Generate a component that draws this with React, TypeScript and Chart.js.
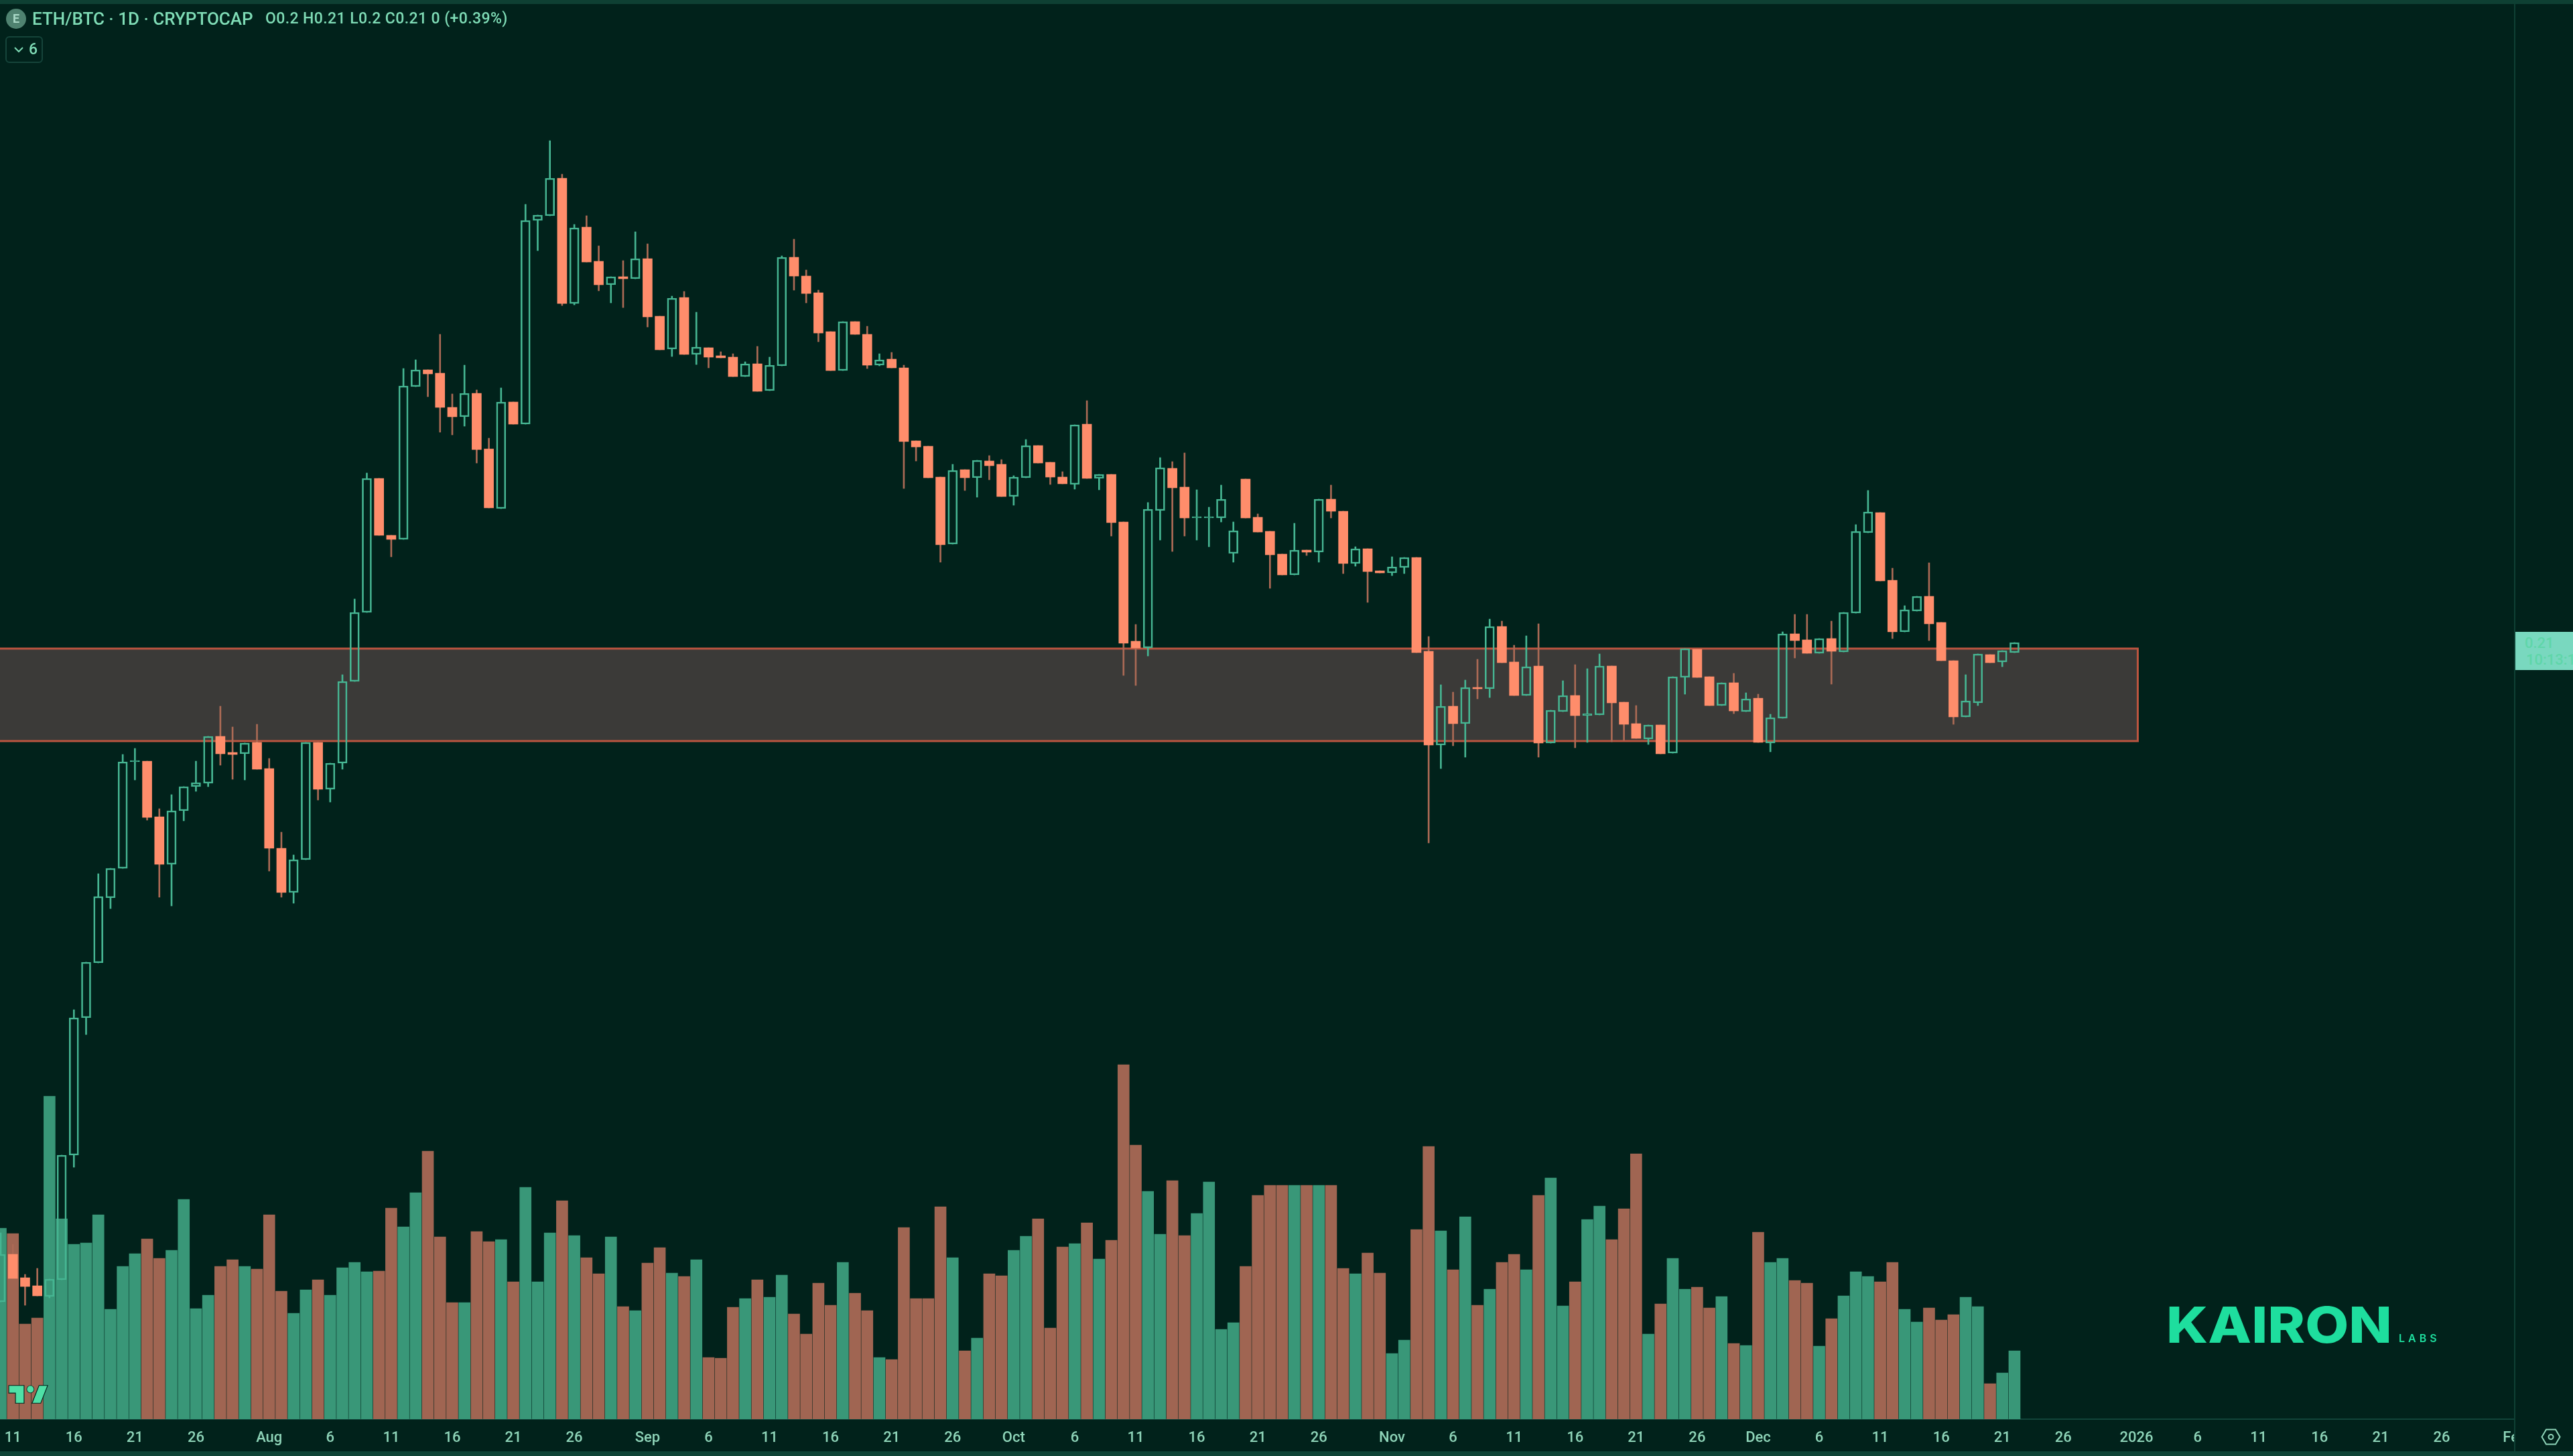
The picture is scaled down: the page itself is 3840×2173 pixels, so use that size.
import { useEffect, useRef } from "react";
import { Chart, registerables } from "chart.js";

Chart.register(...registerables);

// one candle per day, index 0 = 10 Jul 2025, prices in chart points
const opens = [175,246,211,199,183,208,394,599,681,778,822,981,982,899,828,908,944,949,1019,995,993,1010,971,852,786,835,1010,940,979,1101,1204,1404,1319,1313,1541,1566,1561,1510,1496,1531,1448,1359,1518,1485,1789,1796,1852,1665,1779,1728,1693,1705,1702,1732,1646,1597,1674,1589,1599,1587,1585,1556,1575,1535,1572,1734,1706,1681,1623,1565,1638,1619,1573,1582,1569,1460,1452,1406,1306,1417,1405,1430,1425,1377,1405,1453,1428,1406,1395,1485,1404,1410,1339,1161,1151,1356,1419,1391,1345,1345,1345,1292,1403,1346,1325,1291,1260,1297,1294,1373,1355,1277,1299,1266,1263,1271,1286,1146,1006,1064,1038,1092,1090,1183,1130,1080,1124,1009,1056,1080,1050,1051,1124,1070,1038,1015,1036,994,1107,1149,1108,1065,1099,1056,1076,1009,1046,1172,1163,1143,1165,1145,1203,1323,1353,1252,1175,1206,1228,1189,1132,1048,1069,1141,1130,1144];
const highs = [278,261,216,225,209,394,611,682,814,822,992,1001,982,911,932,944,982,1019,1064,1033,1009,1037,986,876,842,1010,1010,979,1111,1224,1412,1404,1319,1568,1581,1566,1619,1530,1573,1536,1464,1539,1518,1813,1797,1908,1858,1783,1796,1751,1705,1729,1772,1754,1646,1676,1683,1652,1599,1593,1590,1578,1601,1585,1736,1761,1715,1685,1623,1638,1638,1631,1590,1592,1573,1460,1452,1406,1425,1417,1431,1438,1432,1408,1462,1453,1428,1414,1484,1520,1410,1410,1339,1186,1368,1435,1429,1442,1387,1361,1394,1339,1403,1351,1325,1291,1337,1297,1373,1394,1355,1302,1299,1266,1287,1286,1286,1168,1096,1085,1103,1134,1194,1191,1155,1169,1187,1058,1102,1126,1120,1142,1124,1070,1065,1036,1036,1108,1150,1149,1108,1099,1113,1084,1082,1052,1175,1201,1201,1165,1191,1204,1335,1386,1353,1270,1214,1228,1278,1189,1132,1111,1142,1141,1147,1159];
const lows = [175,210,170,184,181,208,376,574,681,762,822,954,894,779,766,893,937,944,976,955,954,970,818,779,770,835,924,921,970,1101,1204,1319,1287,1313,1541,1526,1473,1469,1482,1427,1360,1359,1485,1485,1744,1796,1662,1663,1727,1684,1666,1659,1702,1630,1596,1586,1589,1574,1569,1584,1556,1556,1534,1535,1572,1685,1666,1608,1565,1565,1619,1568,1572,1569,1389,1430,1405,1279,1306,1386,1376,1402,1377,1364,1405,1427,1395,1396,1388,1404,1387,1318,1110,1095,1139,1312,1295,1318,1312,1302,1339,1279,1345,1324,1240,1260,1260,1289,1279,1345,1262,1273,1219,1263,1259,1262,1144,860,971,1005,988,1075,1077,1129,1080,1080,988,1009,1056,1002,1010,1051,1011,1013,1016,1007,993,994,1082,1107,1065,1065,1053,1056,1010,996,1046,1136,1143,1143,1097,1145,1203,1323,1251,1165,1175,1206,1162,1132,1037,1048,1065,1129,1123,1144];
const closes = [246,210,198,184,209,394,599,682,780,822,981,983,898,828,908,944,950,1019,993,992,1009,970,852,786,835,1010,940,979,1101,1204,1404,1319,1313,1542,1566,1560,1510,1496,1531,1447,1360,1518,1485,1789,1797,1852,1665,1778,1727,1693,1705,1702,1732,1645,1596,1673,1589,1600,1585,1584,1556,1575,1534,1573,1734,1706,1680,1621,1565,1638,1619,1573,1581,1569,1459,1451,1405,1305,1416,1405,1431,1423,1377,1406,1453,1427,1406,1396,1484,1404,1410,1338,1158,1151,1358,1420,1390,1345,1347,1347,1373,1326,1345,1324,1290,1260,1297,1294,1373,1355,1277,1299,1265,1263,1272,1286,1144,1006,1064,1038,1092,1090,1183,1129,1080,1123,1009,1058,1080,1050,1053,1124,1069,1037,1016,1036,993,1108,1150,1107,1065,1099,1057,1075,1010,1047,1172,1162,1143,1165,1146,1204,1325,1354,1251,1175,1208,1228,1187,1132,1048,1072,1142,1129,1147,1159];
const volumes = [285,277,142,151,482,299,261,263,305,164,228,247,269,240,252,328,165,185,228,238,228,224,305,191,158,193,208,185,226,234,220,221,315,287,338,400,272,174,174,280,265,268,205,346,205,278,326,274,241,217,272,168,162,233,256,218,213,238,92,91,167,180,208,182,215,157,127,203,170,234,188,162,92,89,286,180,180,317,241,102,121,217,214,252,273,299,136,257,262,293,239,267,529,409,340,276,356,274,307,354,134,144,228,334,349,349,349,349,349,349,225,217,248,218,98,118,283,407,281,223,302,170,194,234,246,223,334,360,169,205,298,318,268,314,396,127,172,240,194,197,166,183,113,110,279,234,240,207,203,109,150,184,220,213,205,234,164,145,166,148,156,182,168,53,69,102];

const tickDays = [1,6,11,16,22,27,32,37,42,47,53,58,63,68,73,78,83,88,93,98,103,108,114,119,124,129,134,139,144,149,154,159,164,169,175,180,185,190,195,200,206];
const tickLabels = ["11","16","21","26","Aug","6","11","16","21","26","Sep","6","11","16","21","26","Oct","6","11","16","21","26","Nov","6","11","16","21","26","Dec","6","11","16","21","26","2026","6","11","16","21","26","Feb"];

const zoneLow = 1012;
const zoneHigh = 1150;
const zoneEndDay = 175.1;

const BG = "#01221b";
const UP = "#46b592";
const DOWN = "#ff8d6b";
const DOWN_WICK = "#ab6a55";
const VOL_UP = "#399778";
const VOL_DOWN = "#a06552";
const TEXT = "#8ed4b8";

const isUp = opens.map((o, i) => closes[i] >= o);
const wickColors = isUp.map((u) => (u ? UP : DOWN_WICK));

const zonePlugin = {
  id: "zone",
  beforeDatasetsDraw(chart: any) {
    const { ctx, scales } = chart;
    const left = scales.x.getPixelForValue(scales.x.min);
    const right = scales.x.getPixelForValue(zoneEndDay);
    const top = scales.y.getPixelForValue(zoneHigh);
    const bottom = scales.y.getPixelForValue(zoneLow);
    ctx.save();
    ctx.fillStyle = "#3b3a38";
    ctx.fillRect(left, top, right - left, bottom - top);
    ctx.strokeStyle = "#bb5540";
    ctx.lineWidth = 3;
    ctx.strokeRect(left - 3, top, right - left + 3, bottom - top);
    ctx.restore();
  },
};

function App() {
  const chartRef = useRef<HTMLCanvasElement>(null);

  useEffect(() => {
    if (!chartRef.current) return;

    const chart = new Chart(chartRef.current, {
      type: "bar",
      data: {
        datasets: [
          {
            label: "Volume",
            yAxisID: "yVol",
            order: 5,
            grouped: false,
            barThickness: 17,
            data: volumes.map((v, i) => ({ x: i, y: v })),
            backgroundColor: isUp.map((u) => (u ? VOL_UP : VOL_DOWN)),
          },
          {
            label: "Upper wick",
            order: 3,
            grouped: false,
            barThickness: 2,
            data: highs.map((h, i) => ({ x: i, y: [Math.max(opens[i], closes[i]), h] })),
            backgroundColor: wickColors,
          },
          {
            label: "Lower wick",
            order: 3,
            grouped: false,
            barThickness: 2,
            data: lows.map((l, i) => ({ x: i, y: [l, Math.min(opens[i], closes[i])] })),
            backgroundColor: wickColors,
          },
          {
            label: "Body",
            order: 1,
            grouped: false,
            barThickness: 14,
            borderSkipped: false,
            data: opens.map((o, i) => ({ x: i, y: [o, closes[i]] })),
            backgroundColor: isUp.map((u) => (u ? "transparent" : DOWN)),
            borderColor: UP,
            borderWidth: isUp.map((u) => (u ? 2 : 0)),
          },
        ] as any,
      },
      options: {
        responsive: false,
        animation: false,
        devicePixelRatio: 1,
        layout: { padding: 0 },
        plugins: {
          legend: { display: false },
          tooltip: { enabled: false },
        },
        scales: {
          x: {
            type: "linear",
            offset: false,
            min: -0.055,
            max: 205.93,
            grid: { display: false, drawTicks: false },
            border: { display: true, color: "#11443a", width: 2 },
            afterBuildTicks: (scale: any) => {
              scale.ticks = tickDays.map((value) => ({ value }));
            },
            afterFit: (scale: any) => {
              scale.height = 55;
              scale.paddingLeft = 0;
              scale.paddingRight = 0;
            },
            ticks: {
              autoSkip: false,
              maxRotation: 0,
              padding: 15,
              color: TEXT,
              font: { family: "Roboto", size: 22, weight: "500" },
              callback: (value: any) => tickLabels[tickDays.indexOf(value)],
            },
          },
          y: { display: false, min: 0, max: 2118 },
          yVol: { display: false, min: 0, max: 2118 },
        },
      } as any,
      plugins: [zonePlugin],
    });

    return () => chart.destroy();
  }, []);

  return (
    <div style={{ position: "fixed", left: 0, top: 0, width: 3840, height: 2173, background: BG, overflow: "hidden", fontFamily: "Roboto" }}>
      <canvas ref={chartRef} width={3752} height={2173} style={{ position: "absolute", left: 0, top: 0, width: 3752, height: 2173 }} />

      {/* frame */}
      <div style={{ position: "absolute", left: 0, top: 0, width: 3840, height: 6, background: "#0e4033" }} />
      <div style={{ position: "absolute", left: 0, top: 2166, width: 3840, height: 7, background: "#0f4436" }} />
      <div style={{ position: "absolute", left: 3752, top: 6, width: 2, height: 2160, background: "#0f4034" }} />

      {/* legend */}
      <div style={{ position: "absolute", left: 9, top: 13, width: 30, height: 30, borderRadius: 15, background: "#4f8270", color: "#a9d8c6", fontSize: 18, fontWeight: 700, lineHeight: "30px", textAlign: "center" }}>E</div>
      <div style={{ position: "absolute", left: 48, top: 12, color: "#7fdcb6", fontSize: 26, lineHeight: "32px", fontWeight: 500, whiteSpace: "nowrap" }}>ETH/BTC · 1D · CRYPTOCAP</div>
      <div style={{ position: "absolute", left: 396, top: 13, color: "#7fdcb6", fontSize: 23, lineHeight: "30px", fontWeight: 500, letterSpacing: 0.4, whiteSpace: "nowrap" }}>O0.2 H0.21 L0.2 C0.21 0 (+0.39%)</div>
      <div style={{ position: "absolute", left: 8, top: 54, width: 52, height: 36, border: "2px solid #15443a", borderRadius: 6, color: "#7fdcb6", fontSize: 23, lineHeight: "36px", fontWeight: 500 }}>
        <svg width="16" height="10" viewBox="0 0 16 10" style={{ position: "absolute", left: 10, top: 13 }}>
          <path d="M2 2 L8 8 L14 2" fill="none" stroke="#7fdcb6" strokeWidth="2" />
        </svg>
        <span style={{ position: "absolute", left: 33 }}>6</span>
      </div>

      {/* last price tag */}
      <div style={{ position: "absolute", left: 3754, top: 943, width: 86, height: 57, background: "#79d8bf", color: "#5fd6a9", fontSize: 22, fontWeight: 500, lineHeight: "25px" }}>
        <div style={{ position: "absolute", left: 14, top: 4 }}>0.21</div>
        <div style={{ position: "absolute", left: 16, top: 29, whiteSpace: "nowrap", width: 70, overflow: "hidden" }}>10:13:11</div>
      </div>

      {/* settings glyph */}
      <svg width="30" height="25" viewBox="0 0 30 25" style={{ position: "absolute", left: 3792, top: 2132 }}>
        <path d="M8 1.5 H22 L28.5 12.5 L22 23.5 H8 L1.5 12.5 Z" fill="none" stroke={TEXT} strokeWidth="2" />
        <circle cx="15" cy="12.5" r="3.5" fill="none" stroke={TEXT} strokeWidth="2" />
      </svg>

      {/* TradingView mark */}
      <svg width="60" height="32" viewBox="0 0 36 19" preserveAspectRatio="none" style={{ position: "absolute", left: 12, top: 2065 }}>
        <path d="M14 2 H1 V8 H7 V17 H14 Z M29 17 L35 2 H28 L22 17 Z" fill="#4fe0a6" stroke={BG} strokeWidth="1.4" paintOrder="stroke" />
        <circle cx="20" cy="5" r="3" fill="#4fe0a6" stroke={BG} strokeWidth="1" paintOrder="stroke" />
      </svg>

      {/* watermark */}
      <div style={{ position: "absolute", left: 3233, top: 1932, color: "#1ede9e", fontFamily: "Inter", fontSize: 74, fontWeight: 800, lineHeight: "90px", whiteSpace: "nowrap", transformOrigin: "left center", transform: "scaleX(1.14)" }}>KAIRON</div>
      <div style={{ position: "absolute", left: 3580, top: 1986, color: "#1ede9e", fontFamily: "Inter", fontSize: 16, fontWeight: 600, lineHeight: "22px", letterSpacing: 5, whiteSpace: "nowrap" }}>LABS</div>
    </div>
  );
}

export default App;
